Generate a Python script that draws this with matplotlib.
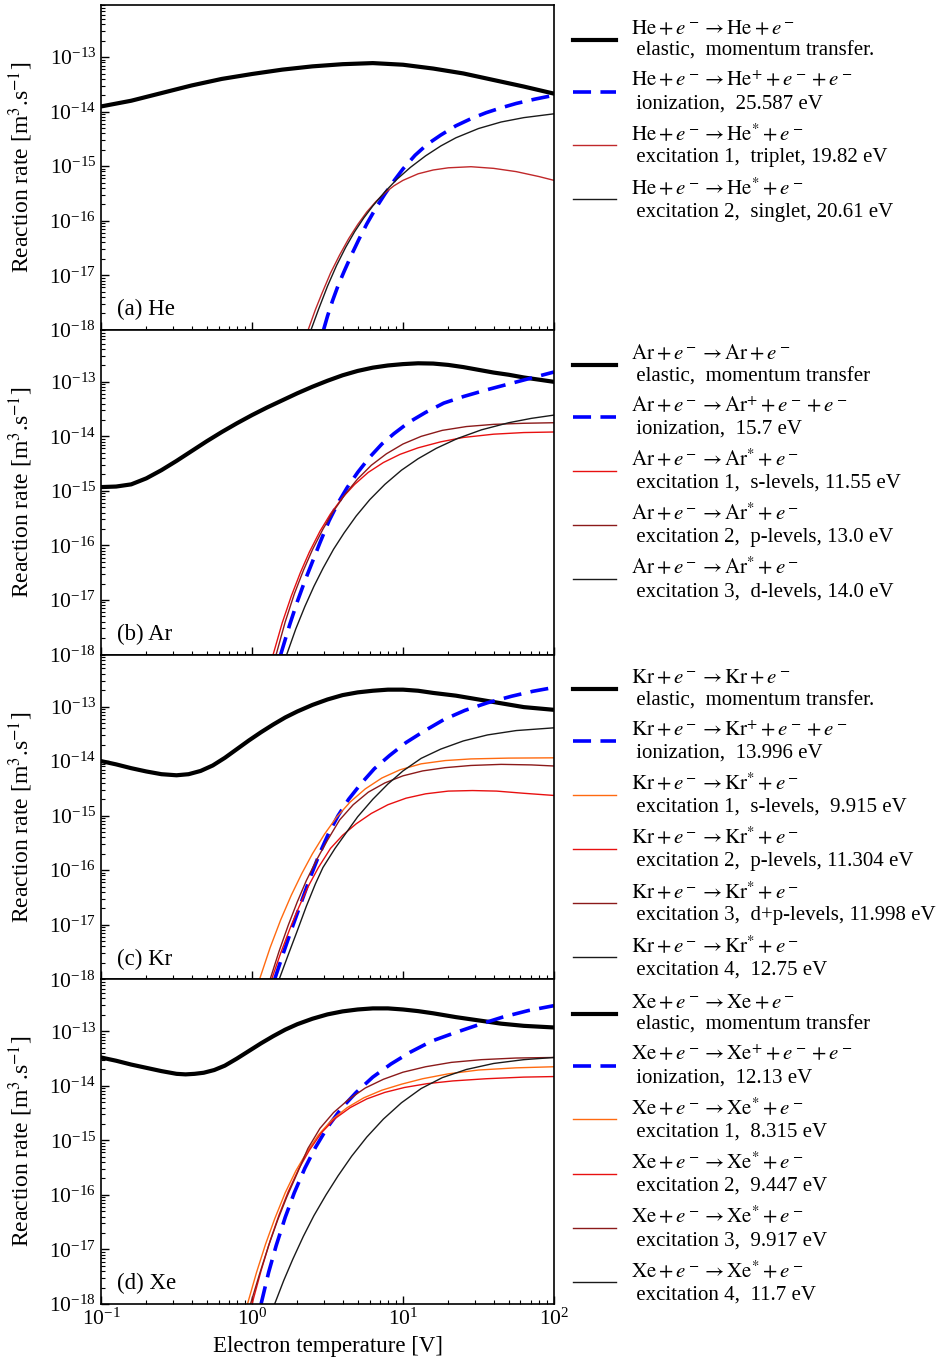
import matplotlib
matplotlib.use("Agg")
import matplotlib.pyplot as plt
import numpy as np

plt.rcParams["font.family"] = "serif"
plt.rcParams["font.serif"] = ["Liberation Serif", "DejaVu Serif"]
plt.rcParams["mathtext.fontset"] = "stix"

# log10(T [V]) / log10(k [m^3/s])
# ---- (a) He
he_el_x = [-1.0, -0.8, -0.6, -0.4, -0.2, 0.0, 0.2, 0.4, 0.6, 0.8, 1.0, 1.2, 1.4, 1.6, 1.8, 2.0]
he_el_y = [-13.905, -13.80, -13.66, -13.52, -13.40, -13.31, -13.23, -13.17, -13.13, -13.11,
           -13.14, -13.21, -13.30, -13.42, -13.54, -13.67]
he_ion_x = [0.474, 0.50, 0.533, 0.57, 0.61, 0.66, 0.71, 0.76, 0.82, 0.88, 0.94, 1.0, 1.08,
            1.16, 1.25, 1.35, 1.45, 1.55, 1.65, 1.75, 1.875, 2.0]
he_ion_y = [-18.0, -17.75, -17.47, -17.19, -16.93, -16.62, -16.33, -16.06, -15.77, -15.51,
            -15.27, -15.05, -14.80, -14.60, -14.43, -14.26, -14.13, -14.02, -13.93, -13.85,
            -13.77, -13.70]
he_ex1_x = [0.372, 0.42, 0.462, 0.52, 0.58, 0.64, 0.70, 0.76, 0.82, 0.88, 0.94, 1.0, 1.1,
            1.2, 1.3, 1.45, 1.6, 1.75, 1.9, 2.0]
he_ex1_y = [-18.0, -17.63, -17.34, -16.96, -16.63, -16.33, -16.07, -15.84, -15.65, -15.49,
            -15.36, -15.26, -15.14, -15.07, -15.03, -15.01, -15.04, -15.10, -15.19, -15.26]
he_ex2_x = [0.391, 0.44, 0.50, 0.56, 0.62, 0.68, 0.74, 0.80, 0.88, 0.96, 1.05, 1.15, 1.25,
            1.35, 1.5, 1.65, 1.8, 2.0]
he_ex2_y = [-18.0, -17.63, -17.20, -16.82, -16.49, -16.20, -15.95, -15.73, -15.47, -15.24,
            -15.02, -14.81, -14.63, -14.48, -14.31, -14.19, -14.11, -14.04]

# ---- (b) Ar
ar_el_x = [-1.0, -0.9, -0.8, -0.7, -0.6, -0.5, -0.4, -0.3, -0.2, -0.1, 0.0, 0.1, 0.2, 0.3,
           0.4, 0.5, 0.6, 0.7, 0.8, 0.9, 1.0, 1.1, 1.2, 1.3, 1.4, 1.5, 1.6, 1.7, 1.8, 1.9, 2.0]
ar_el_y = [-14.93, -14.92, -14.88, -14.77, -14.62, -14.45, -14.27, -14.09, -13.92, -13.76,
           -13.61, -13.47, -13.34, -13.21, -13.09, -12.98, -12.88, -12.80, -12.74, -12.70,
           -12.675, -12.66, -12.665, -12.69, -12.73, -12.78, -12.83, -12.87, -12.92, -12.96,
           -13.0]
ar_ion_x = [0.19, 0.25, 0.30, 0.35, 0.40, 0.45, 0.51, 0.57, 0.63, 0.70, 0.78, 0.86, 0.94,
            1.04, 1.15, 1.27, 1.40, 1.55, 1.70, 1.85, 2.0]
ar_ion_y = [-18.0, -17.45, -17.03, -16.65, -16.30, -15.95, -15.55, -15.22, -14.94, -14.66,
            -14.38, -14.14, -13.95, -13.74, -13.56, -13.39, -13.27, -13.15, -13.04, -12.93,
            -12.82]
ar_ex1_x = [0.14, 0.20, 0.26, 0.32, 0.38, 0.45, 0.52, 0.60, 0.68, 0.77, 0.87, 0.98, 1.10,
            1.25, 1.40, 1.60, 1.80, 2.0]
ar_ex1_y = [-18.0, -17.42, -16.93, -16.50, -16.12, -15.74, -15.42, -15.12, -14.88, -14.66,
            -14.48, -14.33, -14.21, -14.10, -14.02, -13.96, -13.93, -13.92]
ar_ex2_x = [0.16, 0.22, 0.28, 0.34, 0.40, 0.47, 0.54, 0.62, 0.70, 0.79, 0.89, 1.0, 1.12,
            1.26, 1.42, 1.6, 1.8, 2.0]
ar_ex2_y = [-18.0, -17.40, -16.89, -16.46, -16.08, -15.70, -15.37, -15.05, -14.78, -14.53,
            -14.32, -14.14, -14.00, -13.89, -13.82, -13.78, -13.76, -13.75]
ar_ex3_x = [0.23, 0.29, 0.35, 0.41, 0.47, 0.54, 0.61, 0.69, 0.78, 0.88, 0.99, 1.1, 1.22,
            1.36, 1.52, 1.7, 1.85, 2.0]
ar_ex3_y = [-18.0, -17.53, -17.12, -16.75, -16.42, -16.07, -15.77, -15.46, -15.16, -14.88,
            -14.62, -14.41, -14.22, -14.04, -13.88, -13.75, -13.67, -13.61]

# ---- (c) Kr
kr_el_x = [-1.0, -0.9, -0.8, -0.7, -0.6, -0.5, -0.42, -0.34, -0.26, -0.18, -0.10, -0.02,
           0.06, 0.14, 0.22, 0.30, 0.40, 0.50, 0.60, 0.70, 0.80, 0.90, 1.0, 1.1, 1.2, 1.35,
           1.5, 1.65, 1.8, 2.0]
kr_el_y = [-14.0, -14.06, -14.13, -14.19, -14.24, -14.26, -14.24, -14.18, -14.08, -13.94,
           -13.78, -13.62, -13.47, -13.33, -13.20, -13.09, -12.97, -12.87, -12.79, -12.74,
           -12.71, -12.69, -12.69, -12.71, -12.75, -12.80, -12.87, -12.94, -13.01, -13.06]
kr_ion_x = [0.15, 0.21, 0.27, 0.33, 0.39, 0.45, 0.51, 0.57, 0.64, 0.72, 0.81, 0.91, 1.02,
            1.14, 1.27, 1.41, 1.56, 1.72, 1.86, 2.0]
kr_ion_y = [-18.0, -17.50, -17.02, -16.56, -16.10, -15.68, -15.31, -15.00, -14.70, -14.42,
            -14.14, -13.90, -13.66, -13.45, -13.24, -13.07, -12.93, -12.81, -12.72, -12.65]
kr_ex1_x = [0.05, 0.12, 0.19, 0.26, 0.33, 0.40, 0.48, 0.56, 0.65, 0.75, 0.86, 0.98, 1.12,
            1.28, 1.45, 1.7, 2.0]
kr_ex1_y = [-18.0, -17.42, -16.91, -16.46, -16.06, -15.70, -15.34, -15.03, -14.75, -14.51,
            -14.31, -14.16, -14.05, -13.99, -13.96, -13.945, -13.94]
kr_ex2_x = [0.13, 0.19, 0.25, 0.31, 0.37, 0.44, 0.52, 0.60, 0.69, 0.79, 0.90, 1.02, 1.15,
            1.30, 1.46, 1.62, 1.8, 2.0]
kr_ex2_y = [-18.0, -17.52, -17.08, -16.68, -16.31, -15.95, -15.60, -15.36, -15.15, -14.96,
            -14.80, -14.68, -14.60, -14.55, -14.54, -14.55, -14.59, -14.63]
kr_ex3_x = [0.12, 0.18, 0.24, 0.30, 0.36, 0.43, 0.50, 0.58, 0.67, 0.77, 0.88, 1.0, 1.13,
            1.28, 1.45, 1.65, 1.85, 2.0]
kr_ex3_y = [-18.0, -17.48, -17.01, -16.58, -16.19, -15.80, -15.45, -15.08, -14.80, -14.57,
            -14.40, -14.27, -14.18, -14.12, -14.08, -14.06, -14.07, -14.09]
kr_ex4_x = [0.18, 0.24, 0.30, 0.36, 0.42, 0.47, 0.55, 0.63, 0.70, 0.80, 0.90, 1.0, 1.12,
            1.25, 1.40, 1.56, 1.75, 2.0]
kr_ex4_y = [-18.0, -17.55, -17.11, -16.66, -16.25, -15.95, -15.60, -15.29, -15.02, -14.70,
            -14.42, -14.18, -13.95, -13.78, -13.63, -13.52, -13.44, -13.39]

# ---- (d) Xe
xe_el_x = [-1.0, -0.9, -0.8, -0.7, -0.6, -0.5, -0.44, -0.38, -0.32, -0.25, -0.18, -0.10,
           -0.02, 0.06, 0.14, 0.22, 0.30, 0.40, 0.50, 0.60, 0.70, 0.80, 0.90, 1.0, 1.1, 1.2,
           1.35, 1.5, 1.65, 1.8, 2.0]
xe_el_y = [-13.48, -13.54, -13.61, -13.67, -13.73, -13.78, -13.79, -13.78, -13.76, -13.71,
           -13.63, -13.50, -13.36, -13.22, -13.09, -12.97, -12.87, -12.77, -12.69, -12.635,
           -12.60, -12.58, -12.58, -12.60, -12.63, -12.67, -12.74, -12.80, -12.86, -12.90,
           -12.93]
xe_ion_x = [0.06, 0.11, 0.16, 0.22, 0.28, 0.35, 0.42, 0.50, 0.59, 0.69, 0.80, 0.92, 1.05,
            1.19, 1.34, 1.50, 1.66, 1.83, 2.0]
xe_ion_y = [-18.0, -17.42, -16.93, -16.41, -15.96, -15.51, -15.13, -14.76, -14.42, -14.12,
            -13.84, -13.60, -13.38, -13.18, -13.03, -12.88, -12.74, -12.62, -12.53]
xe_ex1_x = [-0.03, 0.03, 0.09, 0.15, 0.22, 0.29, 0.36, 0.44, 0.53, 0.63, 0.74, 0.86, 0.99,
            1.13, 1.30, 1.50, 1.75, 2.0]
xe_ex1_y = [-18.0, -17.42, -16.90, -16.44, -15.96, -15.56, -15.23, -14.90, -14.62, -14.40,
            -14.22, -14.08, -13.97, -13.87, -13.78, -13.71, -13.67, -13.65]
xe_ex2_x = [0.0, 0.06, 0.12, 0.18, 0.24, 0.31, 0.38, 0.46, 0.55, 0.65, 0.76, 0.88, 1.01,
            1.16, 1.33, 1.55, 1.8, 2.0]
xe_ex2_y = [-18.0, -17.39, -16.84, -16.36, -15.94, -15.52, -15.18, -14.86, -14.60, -14.40,
            -14.24, -14.12, -14.03, -13.96, -13.91, -13.87, -13.84, -13.83]
xe_ex3_x = [-0.01, 0.05, 0.11, 0.17, 0.23, 0.30, 0.37, 0.45, 0.54, 0.64, 0.75, 0.87, 1.0,
            1.15, 1.32, 1.52, 1.75, 2.0]
xe_ex3_y = [-18.0, -17.45, -16.93, -16.46, -16.04, -15.60, -15.15, -14.78, -14.49, -14.25,
            -14.04, -13.88, -13.75, -13.65, -13.57, -13.52, -13.49, -13.48]
xe_ex4_x = [0.15, 0.21, 0.27, 0.34, 0.41, 0.49, 0.57, 0.66, 0.76, 0.87, 0.99, 1.12, 1.26,
            1.42, 1.60, 1.80, 2.0]
xe_ex4_y = [-18.0, -17.57, -17.18, -16.76, -16.38, -16.00, -15.65, -15.29, -14.94, -14.61,
            -14.31, -14.05, -13.85, -13.70, -13.59, -13.52, -13.48]

BLUE = "#0000ff"
ORANGE = "#ff6a10"
RED = "#e81010"
DRED = "#8b1a1a"
FIRE = "#c0282a"
BLK = "#1a1a1a"


def r(sp, prod):
    return r"$\mathrm{%s}+e^-\rightarrow \mathrm{%s}%s$" % (sp, sp, prod)


panels = [
    ("(a) He", "He", [
        (he_el_x, he_el_y, "elastic", "k", " elastic,  momentum transfer."),
        (he_ion_x, he_ion_y, "ion", BLUE, " ionization,  25.587 eV"),
        (he_ex1_x, he_ex1_y, "exc", FIRE, " excitation 1,  triplet, 19.82 eV"),
        (he_ex2_x, he_ex2_y, "exc", BLK, " excitation 2,  singlet, 20.61 eV"),
    ]),
    ("(b) Ar", "Ar", [
        (ar_el_x, ar_el_y, "elastic", "k", " elastic,  momentum transfer"),
        (ar_ion_x, ar_ion_y, "ion", BLUE, " ionization,  15.7 eV"),
        (ar_ex1_x, ar_ex1_y, "exc", RED, " excitation 1,  s-levels, 11.55 eV"),
        (ar_ex2_x, ar_ex2_y, "exc", DRED, " excitation 2,  p-levels, 13.0 eV"),
        (ar_ex3_x, ar_ex3_y, "exc", BLK, " excitation 3,  d-levels, 14.0 eV"),
    ]),
    ("(c) Kr", "Kr", [
        (kr_el_x, kr_el_y, "elastic", "k", " elastic,  momentum transfer."),
        (kr_ion_x, kr_ion_y, "ion", BLUE, " ionization,  13.996 eV"),
        (kr_ex1_x, kr_ex1_y, "exc", ORANGE, " excitation 1,  s-levels,  9.915 eV"),
        (kr_ex2_x, kr_ex2_y, "exc", RED, " excitation 2,  p-levels, 11.304 eV"),
        (kr_ex3_x, kr_ex3_y, "exc", DRED, " excitation 3,  d+p-levels, 11.998 eV"),
        (kr_ex4_x, kr_ex4_y, "exc", BLK, " excitation 4,  12.75 eV"),
    ]),
    ("(d) Xe", "Xe", [
        (xe_el_x, xe_el_y, "elastic", "k", " elastic,  momentum transfer"),
        (xe_ion_x, xe_ion_y, "ion", BLUE, " ionization,  12.13 eV"),
        (xe_ex1_x, xe_ex1_y, "exc", ORANGE, " excitation 1,  8.315 eV"),
        (xe_ex2_x, xe_ex2_y, "exc", RED, " excitation 2,  9.447 eV"),
        (xe_ex3_x, xe_ex3_y, "exc", DRED, " excitation 3,  9.917 eV"),
        (xe_ex4_x, xe_ex4_y, "exc", BLK, " excitation 4,  11.7 eV"),
    ]),
]

fig, axes = plt.subplots(4, 1, figsize=(9.46, 13.66), dpi=100, sharex=True)
fig.subplots_adjust(left=0.1068, right=0.5856, top=0.9963, bottom=0.0454, hspace=0)

for ax, (tag, sp, curves) in zip(axes, panels):
    for xs, ys, kind, col, desc in curves:
        T = 10 ** np.array(xs)
        k = 10 ** np.array(ys)
        if kind == "elastic":
            ax.plot(T, k, color=col, lw=3.0, label=r(sp, "+e^-") + "\n" + desc)
        elif kind == "ion":
            ax.plot(T, k, color=col, lw=2.6, dashes=(5, 2.6),
                    label=r(sp, "^{+}+e^-+e^-") + "\n" + desc)
        else:
            ax.plot(T, k, color=col, lw=1.0, label=r(sp, "^{*}+e^-") + "\n" + desc)
    ax.set_xscale("log")
    ax.set_yscale("log")
    ax.set_xlim(0.1, 100)
    ax.set_ylim(1e-18, 9e-13)
    ax.set_yticks([1e-18, 1e-17, 1e-16, 1e-15, 1e-14, 1e-13])
    ax.tick_params(which="both", direction="in", top=False, right=False, labelsize=15.5)
    ax.tick_params(which="major", length=6, width=1)
    ax.tick_params(which="minor", length=3, width=0.8)
    for s in ax.spines.values():
        s.set_linewidth(1.2)
    ax.set_ylabel(r"Reaction rate [m$^3$.s$^{-1}$]", fontsize=17)
    ax.yaxis.set_label_coords(-0.145, 0.5)
    ax.text(0.035, 0.045, tag, transform=ax.transAxes, fontsize=16.5)
    ax.legend(loc="upper left", bbox_to_anchor=(1.0, 1.012), frameon=False,
              fontsize=15, handlelength=2.1, labelspacing=0.5, handletextpad=0.7)

axes[-1].set_xlabel("Electron temperature [V]", fontsize=16.5)

plt.savefig("out.png", dpi=100)
plt.close()
